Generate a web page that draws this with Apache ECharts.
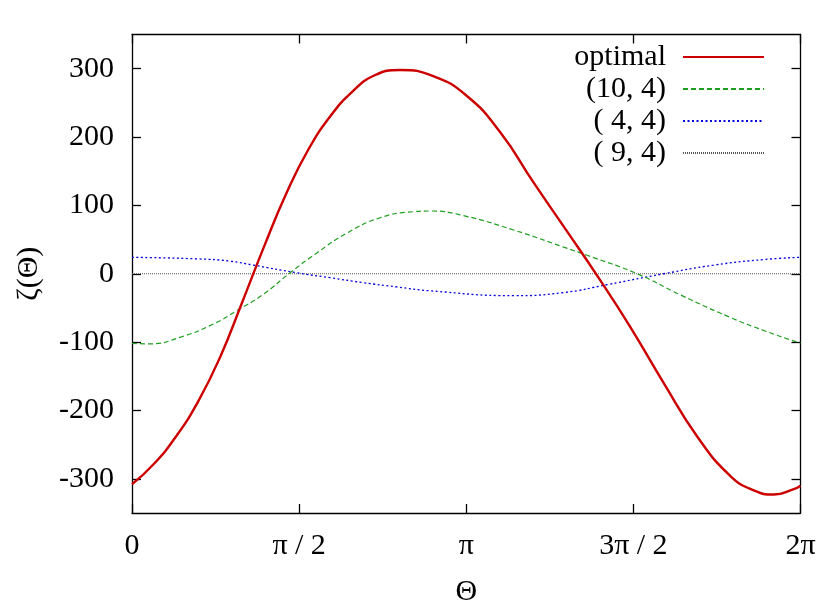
<!DOCTYPE html>
<html>
<head>
<meta charset="utf-8">
<script src="https://cdn.jsdelivr.net/npm/echarts@6/dist/echarts.min.js"></script>
<style>
html,body{margin:0;padding:0;background:#fff;}
#chart{width:830px;height:612px;}
</style>
</head>
<body>
<div id="chart"></div>
<script>
// ---- data (Theta in radians, zeta values) ----
const seriesNames = ['optimal', '(10, 4)', '( 4, 4)', '( 9, 4)'];

const optimalData = [
  [0.000, -308], [0.207, -278], [0.414, -238], [0.621, -187], [0.828, -122],
  [1.035, -42], [1.242, 40], [1.449, 117], [1.655, 181], [1.862, 230],
  [2.069, 266], [2.276, 290], [2.521, 298], [2.831, 289], [3.148, 260],
  [3.461, 207], [3.772, 134], [4.089, 62], [4.386, -6], [4.684, -78],
  [4.998, -160], [5.312, -238], [5.625, -296], [5.844, -317], [6.032, -323],
  [6.220, -315], [6.283, -310]
];

const data10_4 = [
  [0.000, -102], [0.169, -102.5], [0.451, -93], [0.765, -73.5], [0.985, -54],
  [1.235, -30], [1.486, 1.4], [1.737, 30.4], [2.019, 59.4], [2.333, 82],
  [2.646, 90.8], [2.803, 91.8], [3.116, 85], [3.586, 64], [4.057, 39],
  [4.277, 27], [4.747, 0], [5.155, -31], [5.625, -64], [5.938, -83],
  [6.252, -100], [6.283, -101]
];

const data4_4 = [
  [0.000, 24], [0.627, 21.7], [0.922, 18.4], [1.141, 12.6], [1.549, 1.4],
  [1.862, -5.8], [2.173, -13], [2.490, -19.3], [2.803, -25], [3.587, -32],
  [4.057, -27.5], [4.465, -16], [4.998, 0], [5.468, 12.6], [5.938, 20.8],
  [6.283, 24]
];

const data9_4 = [
  [0.000, 0], [3.1416, 0], [6.2832, 0]
];

const xTickValues = [0, Math.PI / 2, Math.PI, 3 * Math.PI / 2, 2 * Math.PI];
const xTickLabels = ['0', 'π / 2', 'π', '3π / 2', '2π'];
const yTickValues = [-300, -200, -100, 0, 100, 200, 300];
const yTickLabels = ['-300', '-200', '-100', '0', '100', '200', '300'];

// ---- chart ----
const FONT = 'Liberation Serif, Times New Roman, serif';
const chart = echarts.init(document.getElementById('chart'), null, {renderer: 'canvas'});

function xLabel(v) {
  const i = Math.round(v / (Math.PI / 2));
  return xTickLabels[i] !== undefined ? xTickLabels[i] : '';
}
function yLabel(v) {
  const i = yTickValues.indexOf(Math.round(v));
  return i >= 0 ? yTickLabels[i] : '';
}

const axisLineStyle = {color: '#000', width: 1.3};
const tickStyle = {color: '#000', width: 1.3};

const option = {
  animation: false,
  backgroundColor: '#fff',
  grid: {left: 132, right: 29.5, top: 34.5, bottom: 94, containLabel: false},
  legend: {
    orient: 'vertical',
    align: 'right',
    right: 65,
    top: 41,
    padding: 0,
    itemGap: 0,
    itemWidth: 81,
    itemHeight: 14,
    itemStyle: {opacity: 0},
    textStyle: {fontFamily: FONT, fontSize: 30, color: '#000', lineHeight: 32, padding: [0, 12, 0, 0]},
    data: seriesNames
  },
  xAxis: [{
    type: 'value', min: 0, max: 2 * Math.PI,
    name: 'Θ', nameLocation: 'middle', nameGap: 64,
    nameTextStyle: {fontFamily: FONT, fontSize: 30, color: '#000'},
    axisLine: {show: true, onZero: false, lineStyle: axisLineStyle},
    axisTick: {show: true, inside: true, length: 9, customValues: xTickValues, lineStyle: tickStyle},
    axisLabel: {show: true, customValues: xTickValues, formatter: xLabel, margin: 18,
      fontFamily: FONT, fontSize: 30, color: '#000', showMinLabel: true, showMaxLabel: true},
    splitLine: {show: false}
  }, {
    type: 'value', min: 0, max: 2 * Math.PI, position: 'top',
    axisLine: {show: true, onZero: false, lineStyle: axisLineStyle},
    axisTick: {show: true, inside: true, length: 9, customValues: xTickValues, lineStyle: tickStyle},
    axisLabel: {show: false},
    splitLine: {show: false}
  }],
  yAxis: [{
    type: 'value', min: -350, max: 350,
    name: 'ζ(Θ)', nameLocation: 'middle', nameGap: 88, nameRotate: 90,
    nameTextStyle: {fontFamily: FONT, fontSize: 30, color: '#000'},
    axisLine: {show: true, onZero: false, lineStyle: axisLineStyle},
    axisTick: {show: true, inside: true, length: 9, customValues: yTickValues, lineStyle: tickStyle},
    axisLabel: {show: true, customValues: yTickValues, formatter: yLabel, margin: 18,
      fontFamily: FONT, fontSize: 30, color: '#000'},
    splitLine: {show: false}
  }, {
    type: 'value', min: -350, max: 350, position: 'right',
    axisLine: {show: true, onZero: false, lineStyle: axisLineStyle},
    axisTick: {show: true, inside: true, length: 9, customValues: yTickValues, lineStyle: tickStyle},
    axisLabel: {show: false},
    splitLine: {show: false}
  }],
  series: [
    {name: seriesNames[0], type: 'line', data: optimalData, smooth: 0.5, showSymbol: false,
     xAxisIndex: 0, yAxisIndex: 0, z: 5,
     lineStyle: {color: '#cc0000', width: 2.4}, itemStyle: {color: '#cc0000'}},
    {name: seriesNames[1], type: 'line', data: data10_4, smooth: 0.5, showSymbol: false,
     xAxisIndex: 0, yAxisIndex: 0, z: 4,
     lineStyle: {color: '#1f9f1f', width: 1.2, type: [5, 3]}, itemStyle: {color: '#1f9f1f'}},
    {name: seriesNames[2], type: 'line', data: data4_4, smooth: 0.5, showSymbol: false,
     xAxisIndex: 0, yAxisIndex: 0, z: 3,
     lineStyle: {color: '#0000e0', width: 1.3, type: [2, 2.5]}, itemStyle: {color: '#0000e0'}},
    {name: seriesNames[3], type: 'line', data: data9_4, smooth: false, showSymbol: false,
     xAxisIndex: 0, yAxisIndex: 0, z: 2,
     lineStyle: {color: '#555', width: 1, type: [1, 1]}, itemStyle: {color: '#555'}}
  ]
};
chart.setOption(option);
</script>
</body>
</html>
